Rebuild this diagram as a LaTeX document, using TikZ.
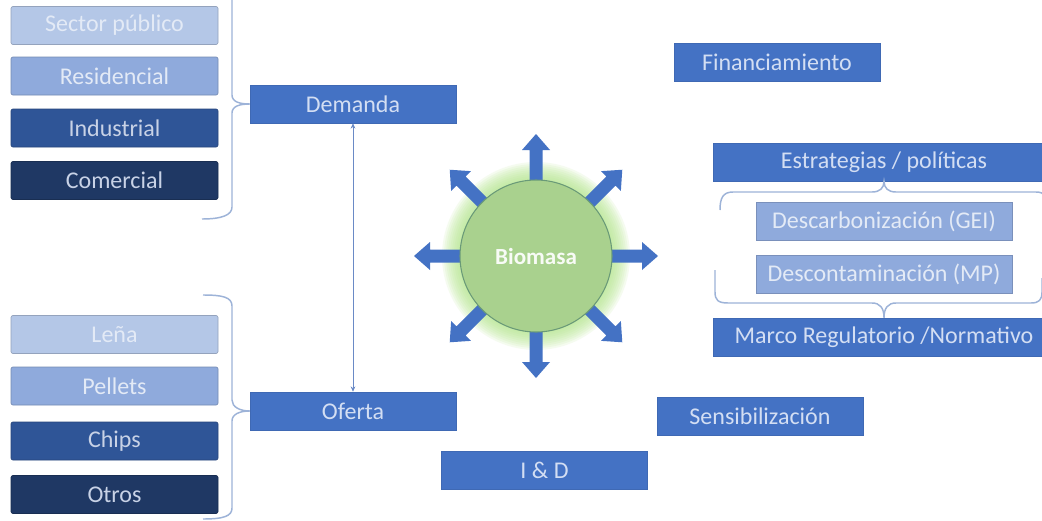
\documentclass[tikz,border=0pt]{standalone}
\usepackage{fontspec}
\setmainfont{Carlito}
\usetikzlibrary{arrows.meta}
\definecolor{mainblue}{HTML}{4472C4}
\definecolor{mbtext}{HTML}{D3DEF3}
\definecolor{lightA}{HTML}{B4C7E7}
\definecolor{lightB}{HTML}{8FAADC}
\definecolor{darkA}{HTML}{2F5597}
\definecolor{darkB}{HTML}{1F3864}
\definecolor{txtA}{HTML}{E3EAF6}
\definecolor{txtD}{HTML}{C8D2E6}
\definecolor{biofill}{HTML}{A9D18E}
\definecolor{bioedge}{HTML}{6A9A78}
\definecolor{glowc}{HTML}{B2E68A}
\definecolor{bracec}{HTML}{9DB3D8}
\definecolor{linkc}{HTML}{6A8AC6}
\begin{document}
\begin{tikzpicture}[x=0.75pt,y=-0.75pt,
  box/.style={rectangle, inner sep=0pt, minimum height=28.5pt, font=\fontsize{18}{20}\selectfont},
  mb/.style={box, minimum width=154.5pt, fill=mainblue, draw=mainblue!92!black, line width=0.4pt, text=mbtext},
  wide/.style={mb, minimum width=256.5pt},
  sub/.style={box, minimum width=192pt, fill=lightB, draw=lightB!85!black, line width=0.5pt, text=txtA},
  lst/.style 2 args={box, minimum width=155.25pt, rounded corners=1.5pt, fill=#1, draw=#1!82!black, line width=0.5pt, text=#2},
  brace/.style={draw=bracec, line width=1.1pt},
  ray/.pic={\fill[mainblue] (72,-6.5) -- (106,-6.5) -- (106,-14) -- (122,0) -- (106,14) -- (106,6.5) -- (72,6.5) -- cycle;}
]
\useasboundingbox (0,0) rectangle (1042,521);
\clip (0,0) rectangle (1042,521);
\fill[white] (0,0) rectangle (1042,521);

% left groups
\node[lst={lightA}{txtA}] (sp) at (114.5,25.5) {Sector público};
\node[lst={lightB}{txtA}] (res) at (114.5,76) {Residencial};
\node[lst={darkA}{txtD}] (ind) at (114.5,128) {Industrial};
\node[lst={darkB}{txtD}] (com) at (114.5,180.5) {Comercial};
\node[lst={lightA}{txtA}] (lena) at (114.5,334.5) {Leña};
\node[lst={lightB}{txtA}] (pel) at (114.5,386) {Pellets};
\node[lst={darkA}{txtD}] (chi) at (114.5,441) {Chips};
\node[lst={darkB}{txtD}] (otr) at (114.5,494.5) {Otros};

% demand / supply
\node[mb] (dem) at (353,104) {Demanda};
\node[mb] (ofe) at (353,411) {Oferta};
\draw[linkc, line width=0.6pt, {Stealth[length=4pt,width=3.5pt]}-{Stealth[length=4pt,width=3.5pt]}] (dem.south) -- (ofe.north);

% braces left
\draw[brace] (202,-14) .. controls (222,-14) and (232,-12) .. (232,-2) -- (232,95)
  .. controls (232,102) and (240,104) .. (dem.west)
  .. controls (240,104) and (232,106) .. (232,113) -- (232,207)
  .. controls (232,215) and (222,219) .. (202,219);
\draw[brace] (203,295) .. controls (222,295) and (232,297) .. (232,306) -- (232,400)
  .. controls (232,407) and (240,411) .. (ofe.west)
  .. controls (240,411) and (232,414) .. (232,421) -- (232,508)
  .. controls (232,516) and (224,519) .. (203,519);

% biomass
\coordinate (c) at (536,256);
\foreach \r in {76,78,...,94} { \fill[glowc, opacity=0.13] (c) circle [radius=\r*0.75pt]; }
\foreach \a in {0,45,...,315} { \pic[rotate=\a] at (c) {ray}; }
\node[circle, minimum size=114pt, inner sep=0pt, fill=biofill, draw=bioedge, line width=0.8pt,
  text=white!92!biofill, font=\bfseries\fontsize{17.3}{19}\selectfont] (bio) at (c) {Biomasa};

% right side
\node[mb] (fin) at (777,62) {Financiamiento};
\node[wide] (est) at (884,162) {Estrategias / políticas};
\node[sub] (dca) at (884,221) {Descarbonización (GEI)};
\node[sub] (dco) at (884,274.5) {Descontaminación (MP)};
\node[wide] (mar) at (884,337) {Marco Regulatorio /Normativo};
\node[mb] (sen) at (760,416) {Sensibilización};
\node[mb] (iyd) at (544.5,470) {I \& D};

% braces right
\draw[brace] (720,210) .. controls (720,198) and (723,192) .. (733,192) -- (872,192)
  .. controls (880,192) and (884,188) .. (est.south)
  .. controls (884,188) and (888,192) .. (896,192) -- (1036,192)
  .. controls (1045,192) and (1048,197) .. (1048,210);
\draw[brace] (715,270) -- (715,292) .. controls (715,300) and (718,303) .. (728,303) -- (872,303)
  .. controls (880,303) and (884,308) .. (mar.north)
  .. controls (884,308) and (888,303) .. (896,303) -- (1031,303)
  .. controls (1039,303) and (1042,300) .. (1042,292) -- (1042,278);
\end{tikzpicture}
\end{document}
